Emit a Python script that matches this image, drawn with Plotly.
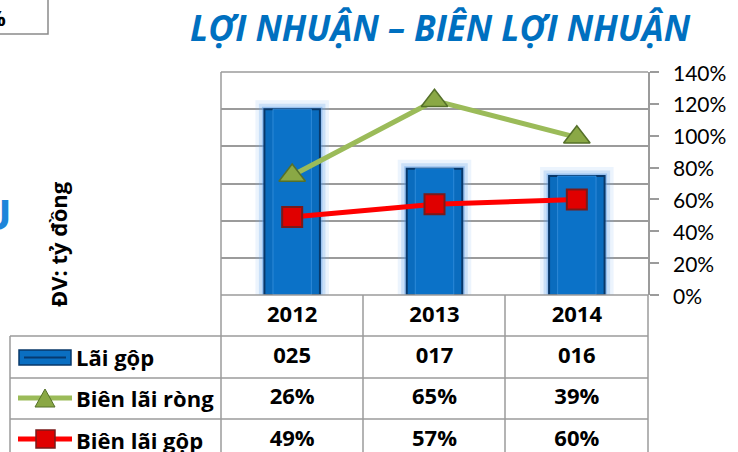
import plotly.graph_objects as go

# ---------------- data ----------------
years = ["2012", "2013", "2014"]
gross_profit = [25, 17, 16]          # Lãi gộp (tỷ đồng)
net_margin = [26, 65, 39]            # Biên lãi ròng (%)
gross_margin = [49, 57, 60]          # Biên lãi gộp (%)
series_names = ["Lãi gộp", "Biên lãi ròng", "Biên lãi gộp"]
pct_ticks = [0, 20, 40, 60, 80, 100, 120, 140]
pct_labels = [f"{v}%" for v in pct_ticks]
title_text = "LỢI NHUẬN – BIÊN LỢI NHUẬN"
unit_text = "ĐV: tỷ đồng"

# Excel "stacked line": the net-margin line is drawn on top of the gross-margin line
stacked_net = [g + n for g, n in zip(gross_margin, net_margin)]

# ---------------- geometry (pixels) ----------------
W, H = 738, 452
X0, X1 = 221, 648      # plot area left/right
Y0, Y1 = 72, 295       # plot area top/bottom
FONT = "Lato"
BFONT = "Open Sans"
GRID = "#9B9B9B"


def px(x):
    return x / W


def py(y):
    return 1 - y / H


fig = go.Figure()

# glow layers behind the bars
for lw, col in [(18, "rgba(120,180,240,0.14)"), (11, "rgba(100,165,235,0.25)"), (5, "rgba(80,150,230,0.40)")]:
    fig.add_bar(x=years, y=gross_profit, width=0.39, showlegend=False, hoverinfo="skip",
                marker=dict(color="rgba(0,0,0,0)", line=dict(color=col, width=lw)))

# main bars
fig.add_bar(x=years, y=gross_profit, width=0.39, name=series_names[0], showlegend=False,
            marker=dict(color="#0A6CBE", line=dict(color="#08386A", width=2)))
# inner face (bevel look)
fig.add_bar(x=years, y=gross_profit, width=0.27, showlegend=False, hoverinfo="skip",
            marker=dict(color="#0B72C8", line=dict(color="rgba(70,155,230,0.6)", width=1)))

# gross margin line (red)
fig.add_scatter(x=years, y=[v / 100 for v in gross_margin], yaxis="y2", name=series_names[2],
                mode="lines+markers", showlegend=False, cliponaxis=False,
                line=dict(color="#FF0000", width=5),
                marker=dict(symbol="square", size=20, color="#E00000",
                            line=dict(color="#7A1A1A", width=2)))
# net margin line (green, stacked)
fig.add_scatter(x=years, y=[v / 100 for v in stacked_net], yaxis="y2", name=series_names[1],
                mode="lines+markers", showlegend=False, cliponaxis=False,
                line=dict(color="#9BBB59", width=5),
                marker=dict(symbol="triangle-up", size=23, color="#8AA845",
                            line=dict(color="#55702A", width=1.5)))

# data table text, placed on the category axis (subplot x / y3 below the chart)
row_y = [316, 357, 398, 440]
table_rows = [
    years,
    [f"{v:03d}" for v in gross_profit],
    [f"{v}%" for v in net_margin],
    [f"{v}%" for v in gross_margin],
]
for ry, vals in zip(row_y, table_rows):
    fig.add_scatter(x=years, y=[ry] * len(years), yaxis="y3", mode="text",
                    text=[f"<b>{v}</b>" for v in vals], showlegend=False, hoverinfo="skip",
                    cliponaxis=False, textposition="middle center",
                    textfont=dict(family=BFONT, size=22, color="black"))

shapes = []


def line(x0, y0, x1, y1, color=GRID, w=1.5):
    shapes.append(dict(type="line", xref="paper", yref="paper",
                       x0=px(x0), y0=py(y0), x1=px(x1), y1=py(y1),
                       line=dict(color=color, width=w), layer="above"))


# plot border
line(X0, Y0, X1, Y0)
line(X0, Y0, X0, Y1)
# table grid
col_edges = [221, 363, 505, 648]
for xe in col_edges:
    line(xe, Y1, xe, H + 10)
line(X0, Y1, X1, Y1)
row_edges = [336, 378, 419]
for ye in row_edges:
    line(10, ye, X1, ye)
line(10, 336, 10, H + 10)

# top-left box (partially visible)
shapes.append(dict(type="rect", xref="paper", yref="paper", x0=px(-5), y0=py(34), x1=px(48), y1=py(-5),
                   line=dict(color="#8A8A8A", width=1.5)))

# legend icons inside the table
shapes.append(dict(type="rect", xref="paper", yref="paper", x0=px(19), y0=py(365), x1=px(71), y1=py(350),
                   fillcolor="#0A6FC2", line=dict(color="#08386A", width=1.5)))
shapes.append(dict(type="line", xref="paper", yref="paper", x0=px(24), y0=py(357.5), x1=px(66), y1=py(357.5),
                   line=dict(color="#063A70", width=2)))
line(18, 398, 72, 398, color="#9BBB59", w=5)
shapes.append(dict(type="path", xref="paper", yref="paper",
                   path=f"M {px(35)} {py(407)} L {px(55)} {py(407)} L {px(45)} {py(389)} Z",
                   fillcolor="#8AA845", line=dict(color="#55702A", width=1)))
line(18, 439, 72, 439, color="#FF0000", w=5)
shapes.append(dict(type="rect", xref="paper", yref="paper", x0=px(36), y0=py(448), x1=px(55), y1=py(430),
                   fillcolor="#E00000", line=dict(color="#7A1A1A", width=1.5)))

annotations = []
# right axis tick labels, left-aligned as in Excel
for v, lab in zip(pct_ticks, pct_labels):
    annotations.append(dict(x=px(671), xref="paper", xanchor="left", y=v / 100, yref="y2",
                            yanchor="middle", text=lab, showarrow=False,
                            font=dict(family=FONT, size=21, color="black")))

for name, yc in zip(series_names, row_y[1:]):
    annotations.append(dict(x=px(74), xref="paper", xanchor="left", y=py(yc), yref="paper",
                            yanchor="middle", text=f"<b>{name}</b>", showarrow=False,
                            font=dict(family=BFONT, size=22, color="black")))

# title
annotations.append(dict(x=px(440), y=py(28), xref="paper", yref="paper", xanchor="center", yanchor="middle",
                        text=f"<b><i>{title_text}</i></b>",
                        showarrow=False, font=dict(family=BFONT, size=35, color="#0070C0")))
# unit label
annotations.append(dict(x=px(58), y=py(244), xref="paper", yref="paper", xanchor="center", yanchor="middle",
                        text=f"<b>{unit_text}</b>",
                        textangle=-90, showarrow=False, font=dict(family=BFONT, size=22, color="black")))
# clipped fragments on the left edge
annotations.append(dict(x=px(8), y=py(17), xref="paper", yref="paper", xanchor="right", yanchor="middle",
                        text="<b>%</b>", showarrow=False, font=dict(family=BFONT, size=22, color="black")))
annotations.append(dict(x=px(14), y=py(213), xref="paper", yref="paper", xanchor="right", yanchor="middle",
                        text="<b>U</b>", showarrow=False, font=dict(family=BFONT, size=42, color="#1E86DA")))

fig.update_layout(
    width=W, height=H,
    margin=dict(l=0, r=0, t=0, b=0, autoexpand=False),
    paper_bgcolor="white", plot_bgcolor="white",
    barmode="overlay",
    showlegend=False,
    font=dict(family=FONT, color="black"),
    xaxis=dict(domain=[px(X0), px(X1)], type="category", range=[-0.5, 2.5], automargin=False,
               showticklabels=False, showgrid=False, zeroline=False, showline=False, ticks=""),
    yaxis=dict(domain=[py(Y1), py(Y0)], range=[0, 30], dtick=5, showgrid=True, gridcolor=GRID,
               gridwidth=1.5, showticklabels=False, zeroline=False, showline=False, ticks="",
               automargin=False),
    yaxis2=dict(overlaying="y", side="right", range=[0, 1.4], tickvals=[v / 100 for v in pct_ticks],
                showticklabels=False,
                showgrid=False, zeroline=False, showline=True, linecolor=GRID, linewidth=1.5,
                ticks="outside", ticklen=9, tickcolor=GRID, tickwidth=1.5,
                automargin=False),
    yaxis3=dict(domain=[0, py(Y1)], anchor="x", range=[H, Y1], automargin=False,
                showticklabels=False, showgrid=False, zeroline=False, showline=False, ticks=""),
    shapes=shapes,
    annotations=annotations,
)

fig.write_html("out.html", config={"displayModeBar": False},
               post_script="document.body.style.margin='0';document.body.style.overflow='hidden';")
